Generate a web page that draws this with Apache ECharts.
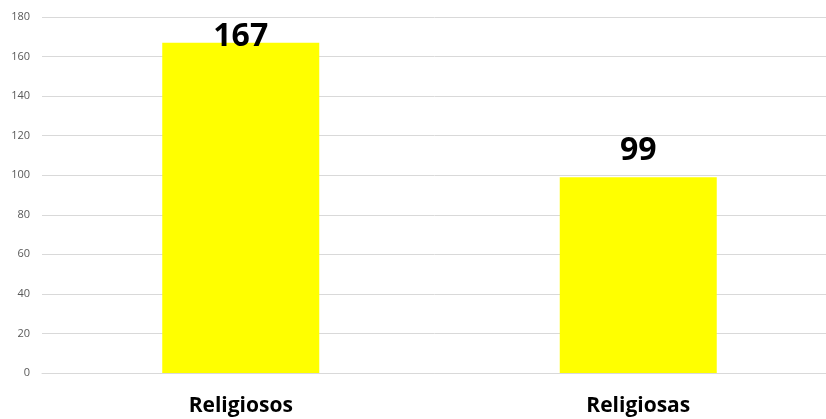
<!DOCTYPE html>
<html lang="es">
<head>
    <meta charset="UTF-8">
    <title>Religiosos y Religiosas</title>
    <script src="https://cdn.jsdelivr.net/npm/echarts@6/dist/echarts.min.js"></script>
</head>
<body style="margin:0">
<div id="main" style="width: 826px;height:419px"></div>
<script>
    const categories = ['Religiosos', 'Religiosas']
    const values = [167, 99]
    const yTicks = {min: 0, max: 180, interval: 20}

    const myChart = echarts.init(document.getElementById('main'))
    const option = {
        animation: false,
        grid: {left: 42, width: 795, top: 17, bottom: 46, outerBoundsMode: 'none'},
        xAxis: {
            type: 'category',
            data: categories,
            axisTick: {show: false},
            axisLine: {lineStyle: {color: '#d9d9d9'}},
            axisLabel: {
                margin: 23,
                fontFamily: 'Open Sans',
                fontWeight: 'bold',
                fontSize: 21,
                color: '#000'
            }
        },
        yAxis: {
            type: 'value',
            min: yTicks.min,
            max: yTicks.max,
            interval: yTicks.interval,
            axisLabel: {
                margin: 12,
                fontFamily: 'Open Sans',
                fontSize: 11,
                color: '#595959'
            },
            splitLine: {lineStyle: {color: '#d9d9d9'}}
        },
        series: [{
            type: 'bar',
            barWidth: 157,
            itemStyle: {color: '#ffff00'},
            label: {
                show: true,
                position: 'top',
                distance: 10,
                fontFamily: 'Open Sans',
                fontWeight: 'bold',
                fontSize: 32,
                color: '#000'
            },
            // la etiqueta del valor mas alto queda pegada al borde del grafico
            data: values.map((v, i) => i === 0 ? {value: v, label: {distance: -10}} : v)
        }]
    }
    myChart.setOption(option)
</script>
</body>
</html>
